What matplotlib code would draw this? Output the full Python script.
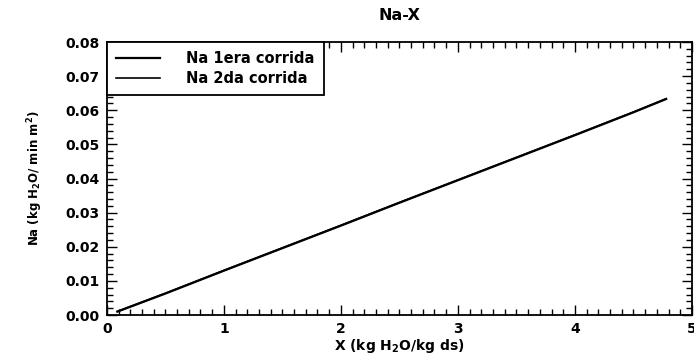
import matplotlib
matplotlib.use("Agg")
import matplotlib.pyplot as plt
from matplotlib.ticker import MultipleLocator

plt.rcParams['font.family'] = ['DejaVu Sans']
plt.rcParams['font.weight'] = 'bold'
plt.rcParams['mathtext.default'] = 'bf'

title = "Na-X"
x_label = "X (kg H$_2$O/kg ds)"
y_label = "Na (kg H$_2$O/ min m$^2$)"
series_names = ["Na 1era corrida", "Na 2da corrida"]

x_run1 = [0.09, 0.5, 1.0, 1.5, 2.0, 2.5, 3.0, 3.5, 4.0, 4.5, 4.78]
na_run1 = [0.0010, 0.0063, 0.0130, 0.0196, 0.0262, 0.0329, 0.0395, 0.0461, 0.0527, 0.0594, 0.0633]
x_run2 = [0.09, 0.5, 1.0, 1.5, 2.0, 2.5, 3.0, 3.5, 4.0, 4.5, 4.78]
na_run2 = [0.0011, 0.0064, 0.0131, 0.0197, 0.0263, 0.0330, 0.0396, 0.0462, 0.0528, 0.0595, 0.0634]

x_ticks = [0, 1, 2, 3, 4, 5]
y_ticks = [0.00, 0.01, 0.02, 0.03, 0.04, 0.05, 0.06, 0.07, 0.08]

fig = plt.figure(figsize=(6.94, 3.56), dpi=100)
ax = fig.add_axes([0.154, 0.115, 0.843, 0.767])

ax.plot(x_run1, na_run1, color='black', lw=1.6, label=series_names[0])
ax.plot(x_run2, na_run2, color='black', lw=1.2, label=series_names[1])

ax.set_xlim(0, 5)
ax.set_ylim(0, 0.08)
ax.set_xticks(x_ticks)
ax.set_yticks(y_ticks)
ax.set_xticklabels([str(v) for v in x_ticks], fontweight='bold', fontsize=10)
ax.set_yticklabels([f"{v:.2f}" for v in y_ticks], fontweight='bold', fontsize=10)
ax.xaxis.set_minor_locator(MultipleLocator(0.1))
ax.yaxis.set_minor_locator(MultipleLocator(0.002))
ax.tick_params(which='both', direction='in', top=True, right=True, width=1)
ax.tick_params(which='major', length=7, pad=5)
ax.tick_params(which='minor', length=4)
for s in ax.spines.values():
    s.set_linewidth(1.3)

ax.set_title(title, fontweight='bold', fontsize=11.5, pad=16)
ax.set_xlabel(x_label, fontweight='bold', fontsize=10, labelpad=1)
ax.set_ylabel(y_label, fontweight='bold', fontsize=8.5, labelpad=15)

leg = ax.legend(loc='upper left', fancybox=False, framealpha=1, edgecolor='black',
                borderaxespad=0, handlelength=3.0, fontsize=10.5, borderpad=0.65,
                labelspacing=0.3, handletextpad=1.8)
leg.get_frame().set_linewidth(1.3)
for t in leg.get_texts():
    t.set_fontweight('bold')

fig.savefig("out.png", dpi=100)
